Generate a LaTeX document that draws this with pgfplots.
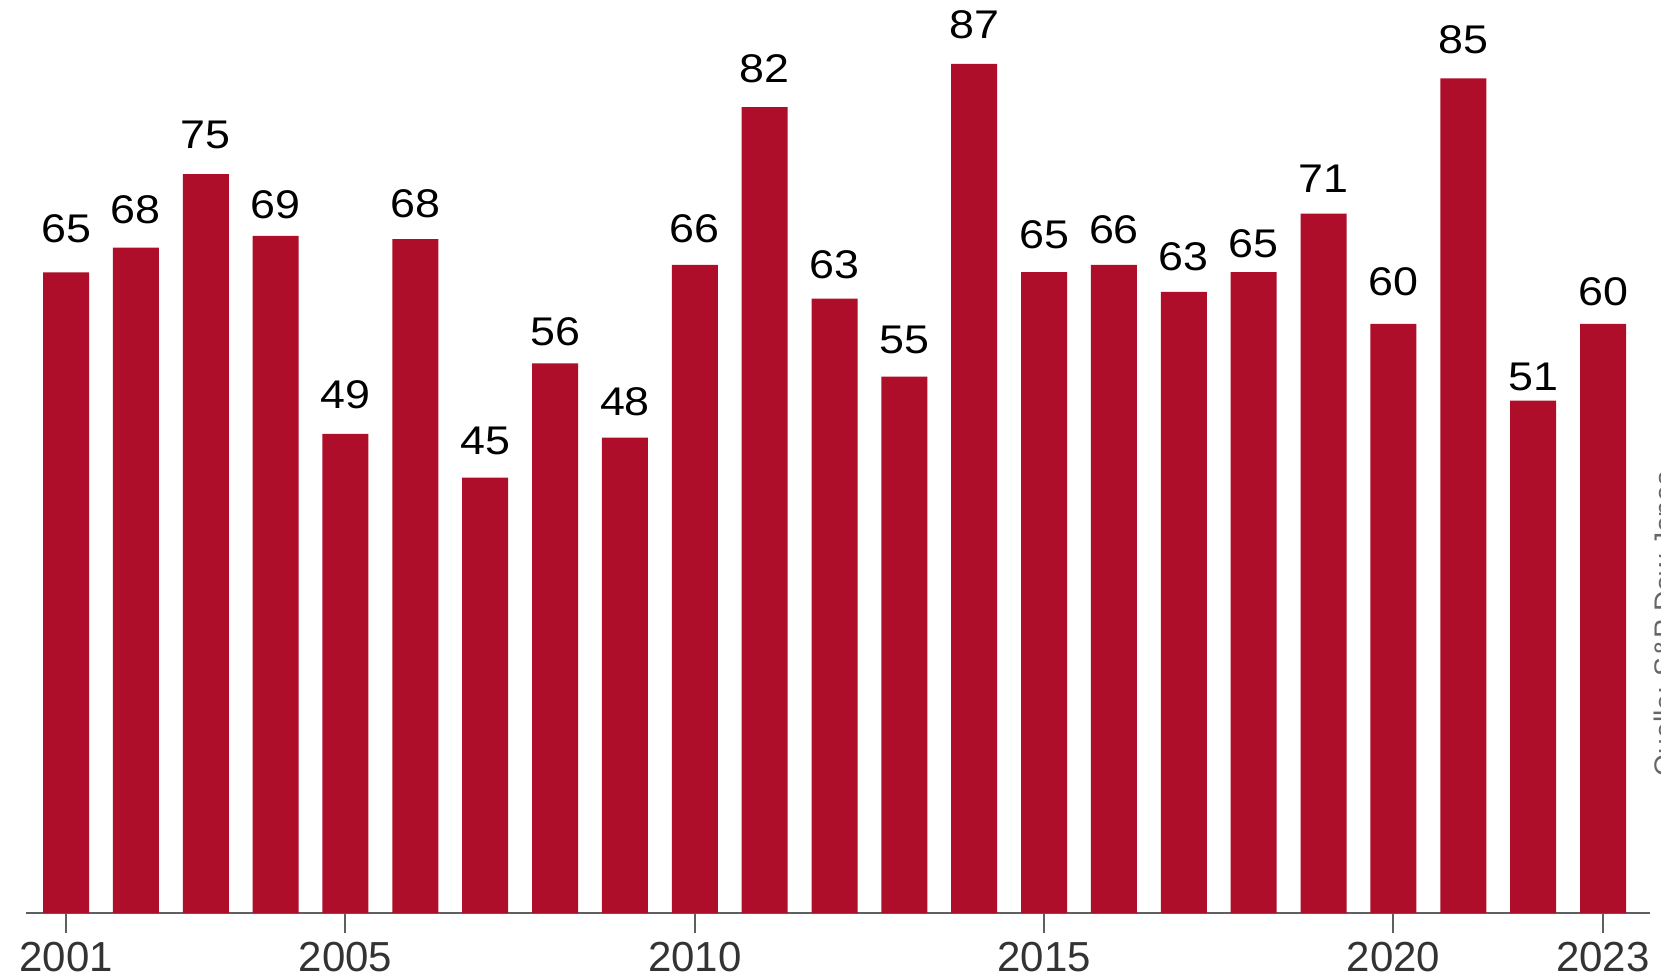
\documentclass[border=0pt]{standalone}
\usepackage{fontspec}
\setmainfont{Liberation Sans}
\newfontfamily\lblfont[FakeStretch=1.12]{Liberation Sans}
\usepackage{pgfplots}
\usepackage{pgfplotstable}
\pgfplotsset{compat=1.18}
\definecolor{barred}{RGB}{175,14,42}
\definecolor{axgray}{RGB}{95,95,95}
\pgfplotstableread{
x y label dy
2001 65.24 65 8.7
2002 67.75 68 6.8
2003 75.25 75 7.4
2004 68.94 69 4.8
2005 48.78 49 7.2
2006 68.61 68 6.3
2007 44.33 45 6.5
2008 55.98 56 5.1
2009 48.40 48 6.3
2010 65.99 66 6.5
2011 82.05 82 7.2
2012 62.56 63 5.6
2013 54.61 55 6.5
2014 86.46 87 7.2
2015 65.27 65 6.6
2016 65.99 66 6.2
2017 63.24 63 6.1
2018 65.27 65 4.1
2019 71.21 71 6.1
2020 59.98 60 8.2
2021 85.00 85 7.2
2022 52.17 51 2.7
2023 59.98 60 5.2
}\datatable
\begin{document}
\begin{tikzpicture}
\begin{axis}[
  at={(7.8pt,18.9pt)}, anchor=south west,
  scale only axis, width=487.2pt, height=273.9pt,
  xmin=2000.427, xmax=2023.673, ymin=0, ymax=92.97,
  enlargelimits=false,
  axis x line*=bottom, hide y axis,
  axis line style={-, axgray, line width=0.6pt},
  xtick={2001,2005,2010,2015,2020,2023},
  tick align=outside, major tick length=6pt,
  tick style={axgray, line width=0.6pt},
  /pgf/number format/1000 sep={},
  /pgf/number format/assume math mode=true,
  xticklabel style={font=\fontsize{12.6}{14}\selectfont, text=black!80, inner sep=0pt, yshift=-2.4pt},
  ybar, bar width=13.8pt,
  point meta=explicit,
  visualization depends on={\thisrow{dy}\as\ldy},
  nodes near coords={\pgfmathprintnumber{\pgfplotspointmeta}},
  nodes near coords style={font=\lblfont\fontsize{12}{14}\selectfont, text=black, inner sep=0pt, anchor=south, yshift=\ldy pt},
]
\addplot[fill=barred, draw=none] table[x=x, y=y, meta=label] {\datatable};
\end{axis}
\node[rotate=90, anchor=north west, inner sep=0pt, font=\fontsize{8.5}{10}\selectfont, text=black!60] at (495.9pt,59.7pt) {Quelle: S\&P Dow Jones};
\pgfresetboundingbox
\useasboundingbox (0,0) rectangle (498.3pt,292.8pt);
\end{tikzpicture}
\end{document}
